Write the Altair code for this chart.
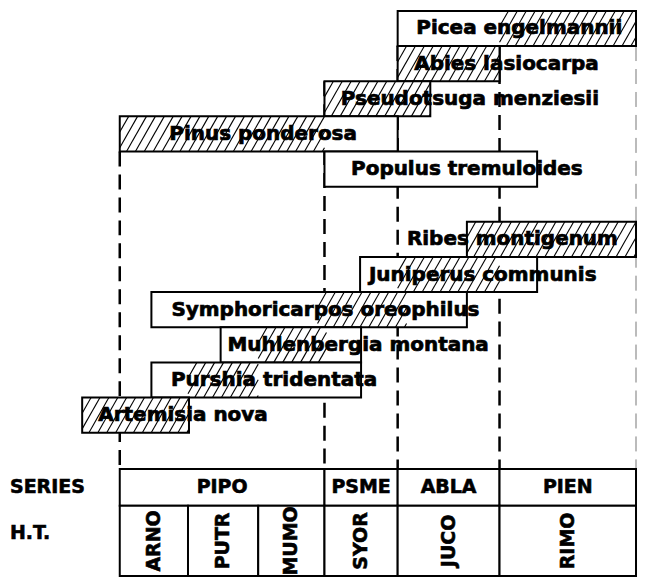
import altair as alt
import pandas as pd

# ---- data (gradient position units along the habitat-type sequence) ----
species = ["Picea engelmannii", "Abies lasiocarpa", "Pseudotsuga menziesii",
           "Pinus ponderosa", "Populus tremuloides", "Ribes montigenum",
           "Juniperus communis", "Symphoricarpos oreophilus", "Muhlenbergia montana",
           "Purshia tridentata", "Artemisia nova"]
row = [0, 1, 2, 3, 4, 6, 7, 8, 9, 10, 11]
box_start = [281, 281, 207, 0, 207, 351, 243, 32, 102, 32, -38]
box_end = [522, 384, 314, 281, 422, 522, 422, 351, 244, 244, 70]
hatch_start = [384, 281, 207, 0, None, 351, 281, 200, 140, 69, -38]
hatch_end = [522, 384, 314, 207, None, 522, 384, 290, 209, 140, 70]
label_center = [404, 391, 354, 145, 351, 397, 367, 208, 241, 156, 64]

series_names = ["PIPO", "PSME", "ABLA", "PIEN"]
series_bounds = [0, 207, 281, 384, 522]
ht_names = ["ARNO", "PUTR", "MUMO", "SYOR", "JUCO", "RIMO"]
ht_bounds = [0, 69, 140, 207, 281, 384, 522]
dash_pos = [0, 207, 281, 384, 522]
dash_from = [3.5, 1.5, 0.5, 0.5, 0.5]

TABLE_TOP, TABLE_MID, TABLE_BOT = 12.53, 13.58, 15.58
W, H = 630, 571
XD = [-113, 523]
YD = [-0.57, 15.65]

xs = alt.Scale(domain=XD, zero=False, nice=False)
ys = alt.Scale(domain=YD, zero=False, nice=False, reverse=True)
FONT = "DejaVu Sans"

boxes = pd.DataFrame({"species": species, "row": row, "x1": box_start, "x2": box_end,
                      "lab": label_center})
boxes["y1"] = boxes["row"] - 0.5
boxes["y2"] = boxes["row"] + 0.5

# hatch segments derived from the hatched extents
px_per_x = W / (XD[1] - XD[0])
run = 20 / px_per_x
step = 9
hs = []
for r, h1, h2 in zip(row, hatch_start, hatch_end):
    if h1 is None:
        continue
    xb = h1 - run
    while xb < h2:
        t0 = max(0.0, (h1 - xb) / run)
        t1 = min(1.0, (h2 - xb) / run)
        if t1 > t0:
            hs.append({"x": xb + run * t0, "x2": xb + run * t1,
                       "y": r + 0.5 - t0, "y2": r + 0.5 - t1})
        xb += step
hatch = pd.DataFrame(hs)

dashes = pd.DataFrame({"x": dash_pos, "y": dash_from, "y2": [TABLE_TOP] * 5,
                       "faint": [False, False, False, False, True]})

series_df = pd.DataFrame({"name": series_names, "x1": series_bounds[:-1],
                          "x2": series_bounds[1:]})
series_df["xc"] = (series_df.x1 + series_df.x2) / 2
ht_df = pd.DataFrame({"name": ht_names, "x1": ht_bounds[:-1], "x2": ht_bounds[1:]})
ht_df["xc"] = (ht_df.x1 + ht_df.x2) / 2

dash_layer = alt.Chart(dashes).mark_rule(strokeDash=[15, 8]).encode(
    x=alt.X("x:Q", scale=xs, axis=None),
    y=alt.Y("y:Q", scale=ys, axis=None), y2="y2:Q",
    strokeWidth=alt.condition("datum.faint", alt.value(1), alt.value(2.5)),
    color=alt.condition("datum.faint", alt.value("#777777"), alt.value("black")),
)

box_layer = alt.Chart(boxes).mark_rect(fill="white", stroke="black", strokeWidth=2).encode(
    x=alt.X("x1:Q", scale=xs, axis=None), x2="x2:Q",
    y=alt.Y("y1:Q", scale=ys, axis=None), y2="y2:Q",
)

hatch_layer = alt.Chart(hatch).mark_rule(color="black", strokeWidth=1.1).encode(
    x=alt.X("x:Q", scale=xs, axis=None), x2="x2:Q",
    y=alt.Y("y:Q", scale=ys, axis=None), y2="y2:Q",
)

label_layer = alt.Chart(boxes).mark_text(font=FONT, fontWeight="bold", fontSize=20,
                                         align="center", baseline="middle",
                                         color="black", stroke="black",
                                         strokeWidth=0.7).encode(
    x=alt.X("lab:Q", scale=xs, axis=None),
    y=alt.Y("row:Q", scale=ys, axis=None),
    text="species:N",
)

series_cells = alt.Chart(series_df).mark_rect(fill="white", stroke="black", strokeWidth=2).encode(
    x=alt.X("x1:Q", scale=xs, axis=None), x2="x2:Q",
    y=alt.Y("y:Q", scale=ys, axis=None), y2="y2:Q",
).transform_calculate(y=str(TABLE_TOP), y2=str(TABLE_MID))

series_text = alt.Chart(series_df).mark_text(font=FONT, fontWeight="bold", fontSize=19,
                                             baseline="middle", stroke="black",
                                             strokeWidth=0.6).encode(
    x=alt.X("xc:Q", scale=xs, axis=None),
    y=alt.Y("y:Q", scale=ys, axis=None),
    text="name:N",
).transform_calculate(y=str((TABLE_TOP + TABLE_MID) / 2))

ht_cells = alt.Chart(ht_df).mark_rect(fill="white", stroke="black", strokeWidth=2).encode(
    x=alt.X("x1:Q", scale=xs, axis=None), x2="x2:Q",
    y=alt.Y("y:Q", scale=ys, axis=None), y2="y2:Q",
).transform_calculate(y=str(TABLE_MID), y2=str(TABLE_BOT))

ht_text = alt.Chart(ht_df).mark_text(font=FONT, fontWeight="bold", fontSize=19,
                                     angle=270, baseline="middle", align="center",
                                     stroke="black", strokeWidth=0.6).encode(
    x=alt.X("xc:Q", scale=xs, axis=None),
    y=alt.Y("y:Q", scale=ys, axis=None),
    text="name:N",
).transform_calculate(y=str((TABLE_MID + TABLE_BOT) / 2))

side_df = pd.DataFrame({"t": ["SERIES", "H.T."], "x": [-111, -111],
                        "y": [(TABLE_TOP + TABLE_MID) / 2, 14.35]})
side_text = alt.Chart(side_df).mark_text(font=FONT, fontWeight="bold", fontSize=19,
                                         align="left", baseline="middle",
                                         stroke="black", strokeWidth=0.6).encode(
    x=alt.X("x:Q", scale=xs, axis=None),
    y=alt.Y("y:Q", scale=ys, axis=None),
    text="t:N",
)

chart = alt.layer(dash_layer, box_layer, hatch_layer, label_layer,
                  series_cells, series_text, ht_cells, ht_text, side_text).properties(
    width=W, height=H, padding=0, background="white"
).configure_view(stroke=None)

chart.save("out.html", embed_options={"renderer": "svg", "actions": False})
